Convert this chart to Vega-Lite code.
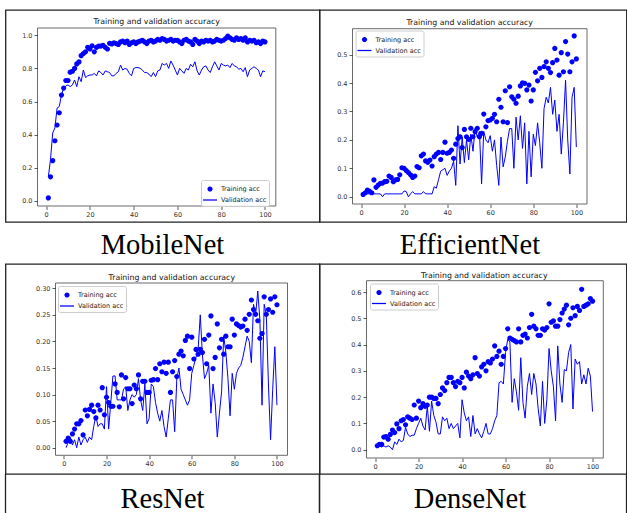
{
  "$schema": "https://vega.github.io/schema/vega-lite/v6.json",
  "padding": {"left": 4.5, "top": 9, "right": 0, "bottom": 0},
  "background": "white",
  "columns": 2,
  "spacing": 0,
  "bounds": "flush",
  "align": "each",
  "resolve": {"scale": {"color": "independent", "shape": "independent"}, "legend": {"color": "independent", "shape": "independent"}},
  "config": {
    "view": {"stroke": "#222222", "strokeWidth": 1.3},
    "concat": {"spacing": 0},
    "axis": {"title": null, "domain": false, "grid": false, "tickColor": "#333333", "tickSize": 3.5, "tickWidth": 0.8, "labelFont": "DejaVu Sans", "labelFontSize": 6.5, "labelColor": "#333333", "labelPadding": 2, "labelFlush": false, "labelOverlap": false, "labelBound": false},
    "title": {"font": "DejaVu Sans", "fontSize": 7.8, "fontWeight": "normal", "color": "#111111"},
    "legend": {"orient": "none", "direction": "vertical", "labelFont": "DejaVu Sans", "labelFontSize": 6.5, "labelColor": "#222222", "symbolSize": 196, "symbolStrokeWidth": 0, "symbolOpacity": 1, "padding": 2, "rowPadding": -4.4, "labelOffset": 4, "fillColor": "rgba(255,255,255,0.85)", "strokeColor": "#cccccc", "cornerRadius": 2}
  },
  "datasets": {
    "mob": [
      {"e":1,"t":0.018,"v":0.145},{"e":2,"t":0.145,"v":0.25},{"e":3,"t":0.243,"v":0.41},{"e":4,"t":0.363,"v":0.44},{"e":5,"t":0.458,"v":0.56},
      {"e":6,"t":0.532,"v":0.57},{"e":7,"t":0.639,"v":0.64},{"e":8,"t":0.681,"v":0.68},{"e":9,"t":0.727,"v":0.695},{"e":10,"t":0.727,"v":0.7},
      {"e":11,"t":0.777,"v":0.69},{"e":12,"t":0.783,"v":0.7},{"e":13,"t":0.8,"v":0.73},{"e":14,"t":0.827,"v":0.69},{"e":15,"t":0.839,"v":0.75},
      {"e":16,"t":0.877,"v":0.72},{"e":17,"t":0.89,"v":0.79},{"e":18,"t":0.9,"v":0.745},{"e":19,"t":0.927,"v":0.755},{"e":20,"t":0.917,"v":0.76},
      {"e":21,"t":0.937,"v":0.76},{"e":22,"t":0.9,"v":0.77},{"e":23,"t":0.927,"v":0.755},{"e":24,"t":0.935,"v":0.785},{"e":25,"t":0.935,"v":0.775},
      {"e":26,"t":0.94,"v":0.76},{"e":27,"t":0.927,"v":0.785},{"e":28,"t":0.917,"v":0.78},{"e":29,"t":0.952,"v":0.775},{"e":30,"t":0.948,"v":0.755},
      {"e":31,"t":0.955,"v":0.755},{"e":32,"t":0.95,"v":0.77},{"e":33,"t":0.945,"v":0.78},{"e":34,"t":0.96,"v":0.82},{"e":35,"t":0.965,"v":0.79},
      {"e":36,"t":0.955,"v":0.8},{"e":37,"t":0.965,"v":0.795},{"e":38,"t":0.945,"v":0.77},{"e":39,"t":0.955,"v":0.755},{"e":40,"t":0.96,"v":0.8},
      {"e":41,"t":0.95,"v":0.805},{"e":42,"t":0.96,"v":0.805},{"e":43,"t":0.965,"v":0.8},{"e":44,"t":0.97,"v":0.79},{"e":45,"t":0.96,"v":0.775},
      {"e":46,"t":0.95,"v":0.775},{"e":47,"t":0.965,"v":0.765},{"e":48,"t":0.97,"v":0.75},{"e":49,"t":0.96,"v":0.775},{"e":50,"t":0.965,"v":0.75},
      {"e":51,"t":0.975,"v":0.785},{"e":52,"t":0.97,"v":0.79},{"e":53,"t":0.98,"v":0.83},{"e":54,"t":0.975,"v":0.82},{"e":55,"t":0.965,"v":0.83},
      {"e":56,"t":0.97,"v":0.8},{"e":57,"t":0.975,"v":0.845},{"e":58,"t":0.965,"v":0.82},{"e":59,"t":0.97,"v":0.79},{"e":60,"t":0.97,"v":0.76},
      {"e":61,"t":0.96,"v":0.8},{"e":62,"t":0.95,"v":0.785},{"e":63,"t":0.97,"v":0.77},{"e":64,"t":0.975,"v":0.8},{"e":65,"t":0.965,"v":0.79},
      {"e":66,"t":0.96,"v":0.825},{"e":67,"t":0.945,"v":0.81},{"e":68,"t":0.975,"v":0.84},{"e":69,"t":0.965,"v":0.785},{"e":70,"t":0.95,"v":0.76},
      {"e":71,"t":0.965,"v":0.79},{"e":72,"t":0.96,"v":0.81},{"e":73,"t":0.97,"v":0.815},{"e":74,"t":0.965,"v":0.79},{"e":75,"t":0.97,"v":0.775},
      {"e":76,"t":0.96,"v":0.81},{"e":77,"t":0.965,"v":0.84},{"e":78,"t":0.975,"v":0.815},{"e":79,"t":0.97,"v":0.79},{"e":80,"t":0.965,"v":0.83},
      {"e":81,"t":0.97,"v":0.82},{"e":82,"t":0.98,"v":0.815},{"e":83,"t":0.995,"v":0.82},{"e":84,"t":0.985,"v":0.805},{"e":85,"t":0.975,"v":0.83},
      {"e":86,"t":0.97,"v":0.815},{"e":87,"t":0.985,"v":0.81},{"e":88,"t":0.975,"v":0.795},{"e":89,"t":0.98,"v":0.8},{"e":90,"t":0.97,"v":0.78},
      {"e":91,"t":0.985,"v":0.805},{"e":92,"t":0.96,"v":0.75},{"e":93,"t":0.97,"v":0.79},{"e":94,"t":0.965,"v":0.8},{"e":95,"t":0.97,"v":0.81},
      {"e":96,"t":0.955,"v":0.8},{"e":97,"t":0.96,"v":0.79},{"e":98,"t":0.95,"v":0.75},{"e":99,"t":0.965,"v":0.785},{"e":100,"t":0.96,"v":0.78}
    ],
    "eff": [
      {"e":1,"t":0.008,"v":0.01},{"e":2,"t":0.014,"v":0.01},{"e":3,"t":0.023,"v":0.01},{"e":4,"t":0.019,"v":0.01},{"e":5,"t":0.014,"v":0.01},
      {"e":6,"t":0.059,"v":0.01},{"e":7,"t":0.033,"v":0.01},{"e":8,"t":0.041,"v":0.01},{"e":9,"t":0.047,"v":0.01},{"e":10,"t":0.048,"v":0.0},
      {"e":11,"t":0.053,"v":0.01},{"e":12,"t":0.054,"v":0.01},{"e":13,"t":0.073,"v":0.01},{"e":14,"t":0.068,"v":0.01},{"e":15,"t":0.053,"v":0.01},
      {"e":16,"t":0.059,"v":0.01},{"e":17,"t":0.061,"v":0.01},{"e":18,"t":0.077,"v":0.01},{"e":19,"t":0.102,"v":0.01},{"e":20,"t":0.1,"v":0.02},
      {"e":21,"t":0.092,"v":0.018},{"e":22,"t":0.085,"v":0.0},{"e":23,"t":0.077,"v":0.01},{"e":24,"t":0.068,"v":0.018},{"e":25,"t":0.073,"v":0.01},
      {"e":26,"t":0.106,"v":0.01},{"e":27,"t":0.102,"v":0.01},{"e":28,"t":0.144,"v":0.01},{"e":29,"t":0.15,"v":0.018},{"e":30,"t":0.126,"v":0.01},
      {"e":31,"t":0.121,"v":0.01},{"e":32,"t":0.129,"v":0.01},{"e":33,"t":0.108,"v":0.01},{"e":34,"t":0.141,"v":0.035},{"e":35,"t":0.15,"v":0.03},
      {"e":36,"t":0.156,"v":0.06},{"e":37,"t":0.131,"v":0.09},{"e":38,"t":0.156,"v":0.095},{"e":39,"t":0.192,"v":0.1},{"e":40,"t":0.153,"v":0.075},
      {"e":41,"t":0.156,"v":0.09},{"e":42,"t":0.164,"v":0.1},{"e":43,"t":0.135,"v":0.125},{"e":44,"t":0.185,"v":0.04},{"e":45,"t":0.205,"v":0.25},
      {"e":46,"t":0.211,"v":0.115},{"e":47,"t":0.173,"v":0.21},{"e":48,"t":0.237,"v":0.12},{"e":49,"t":0.211,"v":0.2},{"e":50,"t":0.202,"v":0.13},
      {"e":51,"t":0.241,"v":0.22},{"e":52,"t":0.211,"v":0.16},{"e":53,"t":0.229,"v":0.24},{"e":54,"t":0.241,"v":0.21},{"e":55,"t":0.211,"v":0.23},
      {"e":56,"t":0.223,"v":0.045},{"e":57,"t":0.291,"v":0.23},{"e":58,"t":0.246,"v":0.2},{"e":59,"t":0.268,"v":0.19},{"e":60,"t":0.27,"v":0.215},
      {"e":61,"t":0.276,"v":0.16},{"e":62,"t":0.29,"v":0.2},{"e":63,"t":0.264,"v":0.11},{"e":64,"t":0.343,"v":0.04},{"e":65,"t":0.315,"v":0.21},
      {"e":66,"t":0.264,"v":0.105},{"e":67,"t":0.373,"v":0.14},{"e":68,"t":0.261,"v":0.195},{"e":69,"t":0.387,"v":0.24},{"e":70,"t":0.352,"v":0.24},
      {"e":71,"t":0.343,"v":0.1},{"e":72,"t":0.329,"v":0.28},{"e":73,"t":0.354,"v":0.2},{"e":74,"t":0.39,"v":0.285},{"e":75,"t":0.401,"v":0.17},
      {"e":76,"t":0.399,"v":0.26},{"e":77,"t":0.376,"v":0.045},{"e":78,"t":0.393,"v":0.23},{"e":79,"t":0.337,"v":0.07},{"e":80,"t":0.376,"v":0.22},
      {"e":81,"t":0.438,"v":0.18},{"e":82,"t":0.408,"v":0.26},{"e":83,"t":0.452,"v":0.19},{"e":84,"t":0.42,"v":0.1},{"e":85,"t":0.458,"v":0.31},
      {"e":86,"t":0.475,"v":0.35},{"e":87,"t":0.452,"v":0.33},{"e":88,"t":0.437,"v":0.385},{"e":89,"t":0.472,"v":0.29},{"e":90,"t":0.522,"v":0.34},
      {"e":91,"t":0.481,"v":0.23},{"e":92,"t":0.428,"v":0.29},{"e":93,"t":0.507,"v":0.15},{"e":94,"t":0.44,"v":0.26},{"e":95,"t":0.546,"v":0.41},
      {"e":96,"t":0.502,"v":0.2},{"e":97,"t":0.44,"v":0.08},{"e":98,"t":0.475,"v":0.35},{"e":99,"t":0.566,"v":0.385},{"e":100,"t":0.485,"v":0.175}
    ],
    "res": [
      {"e":1,"t":0.012,"v":0.0},{"e":2,"t":0.018,"v":0.01},{"e":3,"t":0.012,"v":0.02},{"e":4,"t":0.026,"v":0.005},{"e":5,"t":0.035,"v":0.015},
      {"e":6,"t":0.045,"v":0.0},{"e":7,"t":0.045,"v":0.02},{"e":8,"t":0.051,"v":0.005},{"e":9,"t":0.024,"v":0.015},{"e":10,"t":0.071,"v":0.02},
      {"e":11,"t":0.06,"v":0.01},{"e":12,"t":0.072,"v":0.02},{"e":13,"t":0.08,"v":0.015},{"e":14,"t":0.068,"v":0.04},{"e":15,"t":0.056,"v":0.06},
      {"e":16,"t":0.08,"v":0.04},{"e":17,"t":0.071,"v":0.045},{"e":18,"t":0.113,"v":0.045},{"e":19,"t":0.062,"v":0.035},{"e":20,"t":0.095,"v":0.115},
      {"e":21,"t":0.085,"v":0.035},{"e":22,"t":0.078,"v":0.085},{"e":23,"t":0.078,"v":0.135},{"e":24,"t":0.12,"v":0.135},{"e":25,"t":0.104,"v":0.09},
      {"e":26,"t":0.077,"v":0.09},{"e":27,"t":0.137,"v":0.09},{"e":28,"t":0.092,"v":0.11},{"e":29,"t":0.132,"v":0.115},{"e":30,"t":0.111,"v":0.07},
      {"e":31,"t":0.111,"v":0.09},{"e":32,"t":0.083,"v":0.1},{"e":33,"t":0.118,"v":0.095},{"e":34,"t":0.111,"v":0.1},{"e":35,"t":0.137,"v":0.13},
      {"e":36,"t":0.092,"v":0.09},{"e":37,"t":0.125,"v":0.07},{"e":38,"t":0.125,"v":0.12},{"e":39,"t":0.104,"v":0.045},{"e":40,"t":0.104,"v":0.055},
      {"e":41,"t":0.127,"v":0.12},{"e":42,"t":0.128,"v":0.115},{"e":43,"t":0.149,"v":0.085},{"e":44,"t":0.128,"v":0.065},{"e":45,"t":0.158,"v":0.05},
      {"e":46,"t":0.143,"v":0.07},{"e":47,"t":0.161,"v":0.04},{"e":48,"t":0.14,"v":0.02},{"e":49,"t":0.161,"v":0.055},{"e":50,"t":0.104,"v":0.09},
      {"e":51,"t":0.143,"v":0.09},{"e":52,"t":0.164,"v":0.03},{"e":53,"t":0.134,"v":0.13},{"e":54,"t":0.176,"v":0.15},{"e":55,"t":0.182,"v":0.11},
      {"e":56,"t":0.173,"v":0.1},{"e":57,"t":0.202,"v":0.09},{"e":58,"t":0.21,"v":0.08},{"e":59,"t":0.149,"v":0.09},{"e":60,"t":0.208,"v":0.14},
      {"e":61,"t":0.167,"v":0.155},{"e":62,"t":0.185,"v":0.17},{"e":63,"t":0.176,"v":0.185},{"e":64,"t":0.185,"v":0.25},{"e":65,"t":0.179,"v":0.175},
      {"e":66,"t":0.204,"v":0.13},{"e":67,"t":0.158,"v":0.14},{"e":68,"t":0.212,"v":0.155},{"e":69,"t":0.248,"v":0.065},{"e":70,"t":0.149,"v":0.12},
      {"e":71,"t":0.17,"v":0.085},{"e":72,"t":0.233,"v":0.02},{"e":73,"t":0.188,"v":0.065},{"e":74,"t":0.204,"v":0.105},{"e":75,"t":0.176,"v":0.21},
      {"e":76,"t":0.21,"v":0.18},{"e":77,"t":0.19,"v":0.13},{"e":78,"t":0.19,"v":0.06},{"e":79,"t":0.242,"v":0.14},{"e":80,"t":0.212,"v":0.11},
      {"e":81,"t":0.233,"v":0.14},{"e":82,"t":0.23,"v":0.15},{"e":83,"t":0.227,"v":0.155},{"e":84,"t":0.229,"v":0.17},{"e":85,"t":0.242,"v":0.19},
      {"e":86,"t":0.221,"v":0.21},{"e":87,"t":0.251,"v":0.2},{"e":88,"t":0.278,"v":0.16},{"e":89,"t":0.26,"v":0.27},{"e":90,"t":0.251,"v":0.25},
      {"e":91,"t":0.239,"v":0.295},{"e":92,"t":0.206,"v":0.24},{"e":93,"t":0.215,"v":0.08},{"e":94,"t":0.284,"v":0.27},{"e":95,"t":0.251,"v":0.25},
      {"e":96,"t":0.26,"v":0.12},{"e":97,"t":0.28,"v":0.015},{"e":98,"t":0.255,"v":0.11},{"e":99,"t":0.284,"v":0.19},{"e":100,"t":0.269,"v":0.08}
    ],
    "den": [
      {"e":1,"t":0.015,"v":0.01},{"e":2,"t":0.02,"v":0.015},{"e":3,"t":0.02,"v":0.01},{"e":4,"t":0.048,"v":0.015},{"e":5,"t":0.05,"v":0.01},
      {"e":6,"t":0.04,"v":0.015},{"e":7,"t":0.058,"v":0.01},{"e":8,"t":0.075,"v":0.0},{"e":9,"t":0.065,"v":0.03},{"e":10,"t":0.098,"v":0.02},
      {"e":11,"t":0.08,"v":0.04},{"e":12,"t":0.11,"v":0.03},{"e":13,"t":0.115,"v":0.035},{"e":14,"t":0.095,"v":0.085},{"e":15,"t":0.125,"v":0.06},
      {"e":16,"t":0.12,"v":0.05},{"e":17,"t":0.115,"v":0.055},{"e":18,"t":0.17,"v":0.055},{"e":19,"t":0.12,"v":0.08},{"e":20,"t":0.185,"v":0.1},
      {"e":21,"t":0.16,"v":0.12},{"e":22,"t":0.175,"v":0.09},{"e":23,"t":0.165,"v":0.075},{"e":24,"t":0.17,"v":0.165},{"e":25,"t":0.2,"v":0.07},
      {"e":26,"t":0.2,"v":0.185},{"e":27,"t":0.195,"v":0.13},{"e":28,"t":0.195,"v":0.105},{"e":29,"t":0.175,"v":0.06},{"e":30,"t":0.21,"v":0.06},
      {"e":31,"t":0.235,"v":0.125},{"e":32,"t":0.225,"v":0.11},{"e":33,"t":0.255,"v":0.12},{"e":34,"t":0.275,"v":0.08},{"e":35,"t":0.275,"v":0.1},
      {"e":36,"t":0.255,"v":0.08},{"e":37,"t":0.24,"v":0.09},{"e":38,"t":0.26,"v":0.1},{"e":39,"t":0.255,"v":0.045},{"e":40,"t":0.275,"v":0.19},
      {"e":41,"t":0.235,"v":0.14},{"e":42,"t":0.295,"v":0.11},{"e":43,"t":0.28,"v":0.125},{"e":44,"t":0.27,"v":0.05},{"e":45,"t":0.285,"v":0.13},
      {"e":46,"t":0.35,"v":0.06},{"e":47,"t":0.29,"v":0.08},{"e":48,"t":0.28,"v":0.06},{"e":49,"t":0.315,"v":0.045},{"e":50,"t":0.325,"v":0.07},
      {"e":51,"t":0.3,"v":0.1},{"e":52,"t":0.335,"v":0.06},{"e":53,"t":0.33,"v":0.06},{"e":54,"t":0.345,"v":0.08},{"e":55,"t":0.395,"v":0.11},
      {"e":56,"t":0.355,"v":0.13},{"e":57,"t":0.375,"v":0.255},{"e":58,"t":0.325,"v":0.26},{"e":59,"t":0.355,"v":0.25},{"e":60,"t":0.385,"v":0.37},
      {"e":61,"t":0.46,"v":0.42},{"e":62,"t":0.425,"v":0.41},{"e":63,"t":0.42,"v":0.18},{"e":64,"t":0.415,"v":0.27},{"e":65,"t":0.41,"v":0.22},
      {"e":66,"t":0.46,"v":0.15},{"e":67,"t":0.41,"v":0.35},{"e":68,"t":0.435,"v":0.18},{"e":69,"t":0.44,"v":0.12},{"e":70,"t":0.425,"v":0.24},
      {"e":71,"t":0.465,"v":0.29},{"e":72,"t":0.515,"v":0.21},{"e":73,"t":0.47,"v":0.29},{"e":74,"t":0.46,"v":0.25},{"e":75,"t":0.435,"v":0.155},
      {"e":76,"t":0.435,"v":0.09},{"e":77,"t":0.46,"v":0.26},{"e":78,"t":0.455,"v":0.1},{"e":79,"t":0.465,"v":0.19},{"e":80,"t":0.555,"v":0.385},
      {"e":81,"t":0.485,"v":0.3},{"e":82,"t":0.49,"v":0.24},{"e":83,"t":0.47,"v":0.11},{"e":84,"t":0.47,"v":0.395},{"e":85,"t":0.495,"v":0.25},
      {"e":86,"t":0.52,"v":0.18},{"e":87,"t":0.535,"v":0.305},{"e":88,"t":0.55,"v":0.3},{"e":89,"t":0.475,"v":0.37},{"e":90,"t":0.5,"v":0.4},
      {"e":91,"t":0.54,"v":0.155},{"e":92,"t":0.51,"v":0.345},{"e":93,"t":0.545,"v":0.325},{"e":94,"t":0.53,"v":0.335},{"e":95,"t":0.61,"v":0.25},
      {"e":96,"t":0.545,"v":0.285},{"e":97,"t":0.55,"v":0.25},{"e":98,"t":0.555,"v":0.31},{"e":99,"t":0.575,"v":0.28},{"e":100,"t":0.565,"v":0.145}
    ]
  },
  "concat": [
    {
      "width": 314, "height": 212,
      "title": {"text": "Training and validation accuracy", "frame": "group", "anchor": "middle", "offset": 0, "dx": -5.8, "dy": 21.7, "baseline": "alphabetic"},
      "layer": [
        {
          "data": {"name": "mob"},
          "mark": {"type": "point", "filled": true, "opacity": 1, "size": 196},
          "encoding": {
            "x": {"field": "e", "type": "quantitative", "scale": {"domain": [-3.95, 104.95], "range": [32, 270.3], "nice": false, "zero": false}, "axis": {"values": [0, 20, 40, 60, 80, 100], "tickCount": 20, "offset": -16, "labelOverlap": false}},
            "y": {"field": "t", "type": "quantitative", "scale": {"domain": [-0.031, 1.044], "range": [196, 18], "nice": false, "zero": false}, "axis": {"values": [0, 0.2, 0.4, 0.6, 0.8, 1.0], "tickCount": 20, "format": ".1f", "offset": -32, "labelOverlap": false}},
            "color": {"datum": "Training acc", "type": "nominal", "scale": {"domain": ["Training acc", "Validation acc"], "range": ["#0000ff", "#0000ff"]}, "legend": {"title": null, "legendX": 195.5, "legendY": 170}},
            "shape": {"datum": "Training acc", "type": "nominal", "scale": {"domain": ["Training acc", "Validation acc"], "range": ["M-0.37,0A0.37,0.37,0,1,1,0.37,0A0.37,0.37,0,1,1,-0.37,0Z", "M-1,-0.09L1,-0.09L1,0.09L-1,0.09Z"]}, "legend": {"title": null, "legendX": 195.5, "legendY": 170}}
          }
        },
        {
          "data": {"name": "mob"},
          "mark": {"type": "line", "color": "#0000ff", "strokeWidth": 1},
          "encoding": {
            "x": {"field": "e", "type": "quantitative", "scale": {"domain": [-3.95, 104.95], "range": [32, 270.3], "nice": false, "zero": false}},
            "y": {"field": "v", "type": "quantitative", "scale": {"domain": [-0.031, 1.044], "range": [196, 18], "nice": false, "zero": false}}
          }
        },
        {
          "data": {"values": [{}]},
          "mark": {"type": "rect", "fill": null, "stroke": "#444444", "strokeWidth": 0.8},
          "encoding": {
            "x": {"datum": -3.95, "type": "quantitative"}, "x2": {"datum": 104.95},
            "y": {"datum": -0.031, "type": "quantitative"}, "y2": {"datum": 1.044}
          }
        }
      ]
    },
    {
      "width": 307, "height": 212,
      "title": {"text": "Training and validation accuracy", "frame": "group", "anchor": "middle", "offset": 0, "dx": -3.3, "dy": 22.5, "baseline": "alphabetic"},
      "layer": [
        {
          "data": {"name": "eff"},
          "mark": {"type": "point", "filled": true, "opacity": 1, "size": 196},
          "encoding": {
            "x": {"field": "e", "type": "quantitative", "scale": {"domain": [-3.95, 104.95], "range": [33, 267.5], "nice": false, "zero": false}, "axis": {"values": [0, 20, 40, 60, 80, 100], "tickCount": 20, "offset": -18, "labelOverlap": false}},
            "y": {"field": "t", "type": "quantitative", "scale": {"domain": [-0.0257, 0.5915], "range": [194, 18.7], "nice": false, "zero": false}, "axis": {"values": [0, 0.1, 0.2, 0.3, 0.4, 0.5], "tickCount": 20, "format": ".1f", "offset": -33, "labelOverlap": false}},
            "color": {"datum": "Training acc", "type": "nominal", "scale": {"domain": ["Training acc", "Validation acc"], "range": ["#0000ff", "#0000ff"]}, "legend": {"title": null, "legendX": 36, "legendY": 20.5}},
            "shape": {"datum": "Training acc", "type": "nominal", "scale": {"domain": ["Training acc", "Validation acc"], "range": ["M-0.37,0A0.37,0.37,0,1,1,0.37,0A0.37,0.37,0,1,1,-0.37,0Z", "M-1,-0.09L1,-0.09L1,0.09L-1,0.09Z"]}, "legend": {"title": null, "legendX": 36, "legendY": 20.5}}
          }
        },
        {
          "data": {"name": "eff"},
          "mark": {"type": "line", "color": "#0000ff", "strokeWidth": 1},
          "encoding": {
            "x": {"field": "e", "type": "quantitative", "scale": {"domain": [-3.95, 104.95], "range": [33, 267.5], "nice": false, "zero": false}},
            "y": {"field": "v", "type": "quantitative", "scale": {"domain": [-0.0257, 0.5915], "range": [194, 18.7], "nice": false, "zero": false}}
          }
        },
        {
          "data": {"values": [{}]},
          "mark": {"type": "rect", "fill": null, "stroke": "#444444", "strokeWidth": 0.8},
          "encoding": {
            "x": {"datum": -3.95, "type": "quantitative"}, "x2": {"datum": 104.95},
            "y": {"datum": -0.0257, "type": "quantitative"}, "y2": {"datum": 0.5915}
          }
        }
      ]
    },
    {
      "width": 314, "height": 42,
      "data": {"values": [{"name": "MobileNet"}]},
      "mark": {"type": "text", "font": "Liberation Serif", "fontSize": 28.5, "baseline": "alphabetic", "dy": 10.5, "color": "#000000"},
      "encoding": {"text": {"field": "name", "type": "nominal"}}
    },
    {
      "width": 307, "height": 42,
      "data": {"values": [{"name": "EfficientNet"}]},
      "mark": {"type": "text", "font": "Liberation Serif", "fontSize": 28.5, "baseline": "alphabetic", "dy": 10.5, "dx": -3, "color": "#000000"},
      "encoding": {"text": {"field": "name", "type": "nominal"}}
    },
    {
      "width": 314, "height": 210,
      "title": {"text": "Training and validation accuracy", "frame": "group", "anchor": "middle", "offset": 0, "dx": 9.3, "dy": 23.5, "baseline": "alphabetic"},
      "layer": [
        {
          "data": {"name": "res"},
          "mark": {"type": "point", "filled": true, "opacity": 1, "size": 196},
          "encoding": {
            "x": {"field": "e", "type": "quantitative", "scale": {"domain": [-3.95, 104.95], "range": [50, 282], "nice": false, "zero": false}, "axis": {"values": [0, 20, 40, 60, 80, 100], "tickCount": 20, "offset": -18.7, "labelOverlap": false}},
            "y": {"field": "t", "type": "quantitative", "scale": {"domain": [-0.0143, 0.31], "range": [191.3, 19], "nice": false, "zero": false}, "axis": {"values": [0, 0.05, 0.1, 0.15, 0.2, 0.25, 0.3], "tickCount": 20, "format": ".2f", "offset": -50, "labelOverlap": false}},
            "color": {"datum": "Training acc", "type": "nominal", "scale": {"domain": ["Training acc", "Validation acc"], "range": ["#0000ff", "#0000ff"]}, "legend": {"title": null, "legendX": 52.5, "legendY": 22}},
            "shape": {"datum": "Training acc", "type": "nominal", "scale": {"domain": ["Training acc", "Validation acc"], "range": ["M-0.37,0A0.37,0.37,0,1,1,0.37,0A0.37,0.37,0,1,1,-0.37,0Z", "M-1,-0.09L1,-0.09L1,0.09L-1,0.09Z"]}, "legend": {"title": null, "legendX": 52.5, "legendY": 22}}
          }
        },
        {
          "data": {"name": "res"},
          "mark": {"type": "line", "color": "#0000ff", "strokeWidth": 1},
          "encoding": {
            "x": {"field": "e", "type": "quantitative", "scale": {"domain": [-3.95, 104.95], "range": [50, 282], "nice": false, "zero": false}},
            "y": {"field": "v", "type": "quantitative", "scale": {"domain": [-0.0143, 0.31], "range": [191.3, 19], "nice": false, "zero": false}}
          }
        },
        {
          "data": {"values": [{}]},
          "mark": {"type": "rect", "fill": null, "stroke": "#444444", "strokeWidth": 0.8},
          "encoding": {
            "x": {"datum": -3.95, "type": "quantitative"}, "x2": {"datum": 104.95},
            "y": {"datum": -0.0143, "type": "quantitative"}, "y2": {"datum": 0.31}
          }
        }
      ]
    },
    {
      "width": 307, "height": 210,
      "title": {"text": "Training and validation accuracy", "frame": "group", "anchor": "middle", "offset": 0, "dx": 11.3, "dy": 21.7, "baseline": "alphabetic"},
      "layer": [
        {
          "data": {"name": "den"},
          "mark": {"type": "point", "filled": true, "opacity": 1, "size": 196},
          "encoding": {
            "x": {"field": "e", "type": "quantitative", "scale": {"domain": [-3.95, 104.95], "range": [47, 283.8], "nice": false, "zero": false}, "axis": {"values": [0, 20, 40, 60, 80, 100], "tickCount": 20, "offset": -16, "labelOverlap": false}},
            "y": {"field": "t", "type": "quantitative", "scale": {"domain": [-0.0316, 0.643], "range": [194, 16.7], "nice": false, "zero": false}, "axis": {"values": [0, 0.1, 0.2, 0.3, 0.4, 0.5, 0.6], "tickCount": 20, "format": ".1f", "offset": -47, "labelOverlap": false}},
            "color": {"datum": "Training acc", "type": "nominal", "scale": {"domain": ["Training acc", "Validation acc"], "range": ["#0000ff", "#0000ff"]}, "legend": {"title": null, "legendX": 50.5, "legendY": 19.5}},
            "shape": {"datum": "Training acc", "type": "nominal", "scale": {"domain": ["Training acc", "Validation acc"], "range": ["M-0.37,0A0.37,0.37,0,1,1,0.37,0A0.37,0.37,0,1,1,-0.37,0Z", "M-1,-0.09L1,-0.09L1,0.09L-1,0.09Z"]}, "legend": {"title": null, "legendX": 50.5, "legendY": 19.5}}
          }
        },
        {
          "data": {"name": "den"},
          "mark": {"type": "line", "color": "#0000ff", "strokeWidth": 1},
          "encoding": {
            "x": {"field": "e", "type": "quantitative", "scale": {"domain": [-3.95, 104.95], "range": [47, 283.8], "nice": false, "zero": false}},
            "y": {"field": "v", "type": "quantitative", "scale": {"domain": [-0.0316, 0.643], "range": [194, 16.7], "nice": false, "zero": false}}
          }
        },
        {
          "data": {"values": [{}]},
          "mark": {"type": "rect", "fill": null, "stroke": "#444444", "strokeWidth": 0.8},
          "encoding": {
            "x": {"datum": -3.95, "type": "quantitative"}, "x2": {"datum": 104.95},
            "y": {"datum": -0.0316, "type": "quantitative"}, "y2": {"datum": 0.643}
          }
        }
      ]
    },
    {
      "width": 314, "height": 39,
      "view": {"stroke": null},
      "layer": [
        {
          "data": {"values": [{"edge": 0}, {"edge": 1}]},
          "mark": {"type": "rule", "color": "#222222", "strokeWidth": 1.3},
          "encoding": {"x": {"field": "edge", "type": "quantitative", "scale": {"domain": [0, 1], "nice": false, "zero": false}, "axis": null}}
        },
        {
          "data": {"values": [{"name": "ResNet"}]},
          "mark": {"type": "text", "font": "Liberation Serif", "fontSize": 28.5, "baseline": "alphabetic", "dy": 14, "color": "#000000"},
          "encoding": {"text": {"field": "name", "type": "nominal"}}
        }
      ]
    },
    {
      "width": 307, "height": 39,
      "view": {"stroke": null},
      "layer": [
        {
          "data": {"values": [{"edge": 0}, {"edge": 1}]},
          "mark": {"type": "rule", "color": "#222222", "strokeWidth": 1.3},
          "encoding": {"x": {"field": "edge", "type": "quantitative", "scale": {"domain": [0, 1], "nice": false, "zero": false}, "axis": null}}
        },
        {
          "data": {"values": [{"name": "DenseNet"}]},
          "mark": {"type": "text", "font": "Liberation Serif", "fontSize": 28.5, "baseline": "alphabetic", "dy": 14, "dx": -3, "color": "#000000"},
          "encoding": {"text": {"field": "name", "type": "nominal"}}
        }
      ]
    }
  ]
}
